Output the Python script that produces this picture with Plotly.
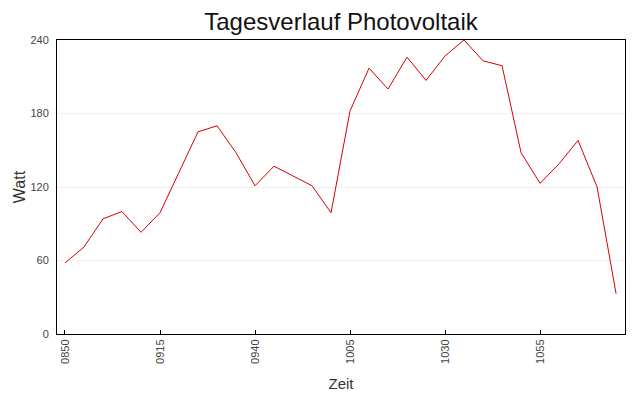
import plotly.graph_objects as go

zeit = ["0850", "0855", "0900", "0905", "0910", "0915", "0920", "0925", "0930", "0935",
        "0940", "0945", "0950", "0955", "1000", "1005", "1010", "1015", "1020", "1025",
        "1030", "1035", "1040", "1045", "1050", "1055", "1100", "1105", "1110", "1115"]
watt = [58, 71, 94, 100, 83, 99, 132, 165, 170, 148,
        121, 137, 129, 121, 99, 182, 217, 200, 226, 207,
        227, 240, 223, 219, 148, 123, 139, 158, 120, 33]
tick_labels = ["0850", "0915", "0940", "1005", "1030", "1055"]
y_ticks = [0, 60, 120, 180, 240]

fig = go.Figure()
fig.add_trace(go.Scatter(x=zeit, y=watt, mode="lines",
                         line=dict(color="#d80000", width=1), showlegend=False))

fig.update_layout(
    width=640, height=400,
    margin=dict(l=57, r=15, t=40, b=66, autoexpand=False),
    paper_bgcolor="white", plot_bgcolor="white",
    font=dict(family="Liberation Sans, Arial, sans-serif", color="#333333"),
    title=dict(text="Tagesverlauf Photovoltaik", x=(57 + 625) / 2 / 640, xanchor="center",
               y=1 - 22 / 400, yanchor="middle", font=dict(size=24, color="#111111")),
)
fig.update_xaxes(
    type="category", range=[-0.42, 29.47], automargin=False,
    tickmode="array", tickvals=tick_labels, ticktext=tick_labels,
    tickangle=-90, tickfont=dict(size=11, color="#444444"),
    ticks="inside", ticklen=4, tickcolor="black",
    showline=True, linecolor="black", linewidth=1, mirror=True,
    showgrid=False,
    title=dict(text="Zeit", font=dict(size=15, color="#333333"), standoff=15),
)
fig.update_yaxes(
    range=[0, 240], tickmode="array", tickvals=y_ticks, automargin=False,
    tickfont=dict(size=11, color="#444444"),
    showline=True, linecolor="black", linewidth=1, mirror=True,
    showgrid=True, gridcolor="#f0f0f0", gridwidth=1, zeroline=False,
    ticks="", ticklabelstandoff=5,
    title=dict(text="Watt", font=dict(size=16, color="#333333"), standoff=0),
)

fig.write_html("out.html", config={"displayModeBar": False},
               post_script="document.body.style.margin='0';document.body.style.padding='0';")
